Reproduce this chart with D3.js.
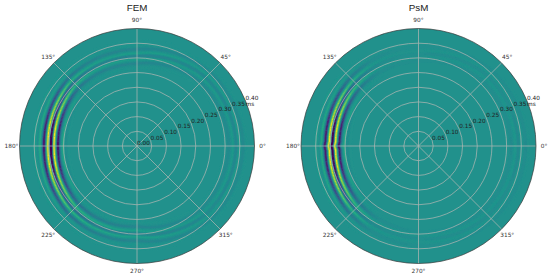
<!DOCTYPE html>
<html><head><meta charset="utf-8">
<script src="https://cdn.jsdelivr.net/npm/d3@7"></script>
<style>html,body{margin:0;padding:0;background:#fff}svg{display:block}</style>
</head><body><svg id="c" width="550" height="278"></svg>
<script>
const titles = ["FEM", "PsM"];
const radialTicks = [0.05, 0.10, 0.15, 0.20, 0.25, 0.30, 0.35, 0.40];
const angleTicks = [0, 45, 90, 135, 180, 225, 270, 315];
const rMax = 0.40;
// Angle samples (deg) read around each disc
const sampleAngles = [0, 45, 90, 105, 120, 135, 150, 165, 177, 180, 183, 195, 210, 225, 240, 255, 270, 315, 360];
// Radius of the wave front (ms) at each sample angle
const frontFEM = [.337, .330, .305, .304, .304, .304, .299, .295, .293, .293, .293, .295, .299, .304, .304, .302, .298, .330, .337];
const frontPsM = [.340, .335, .312, .310, .307, .304, .299, .295, .293, .296, .293, .295, .299, .304, .307, .310, .315, .335, .340];
// Wave amplitude (-1..1) at each sample angle
const ampFEM = [.07, .07, .10, .11, .13, .25, .62, .92, 1, 1, 1, .92, .62, .29, .19, .14, .11, .06, .07];
const ampPsM = [.05, .03, .02, .02, .05, .24, .62, .92, 1, 1, 1, .92, .62, .24, .05, .03, .02, .03, .05];
// Radial wave shape through the front
const waveOffset = [-.075, -.058, -.050, -.041, -.033, -.027, -.021, -.017, -.0125, -.0085, -.006, -.0035, .0035, .006, .0085, .0125, .017, .021, .027, .032, .037, .045, .054, .064, .075];
const waveValue  = [0, .02, -.08, .28, -.08, -.88, -.88, .0, 1, 1, 0, -1, -1, 0, 1, 1, .0, -.85, -.85, -.05, .32, -.05, .12, .0, 0];

const svg = d3.select("#c");
const defs = svg.append("defs");
defs.append("filter").attr("id", "soft").attr("x", "-5%").attr("y", "-5%").attr("width", "110%").attr("height", "110%")
  .append("feGaussianBlur").attr("stdDeviation", 0.3);

const color = d3.scaleSequential(d3.interpolateViridis).domain([-1, 1]);
const wave = d3.scaleLinear().domain(waveOffset).range(waveValue).clamp(true);
const panels = [
  {title: titles[0], cx: 137, cy: 146, R: 117.5, front: frontFEM, amp: ampFEM, zero: true},
  {title: titles[1], cx: 418.5, cy: 146, R: 117.5, front: frontPsM, amp: ampPsM, zero: false}
];
const fmt = d3.format(".2f");
const LEVELS = 96;
const level = d3.scaleQuantize().domain([-1, 1]).range(d3.range(LEVELS));

panels.forEach((p, i) => {
  const r = d3.scaleLinear().domain([0, rMax]).range([0, p.R]);
  const frontAt = d3.scaleLinear().domain(sampleAngles).range(p.front);
  const ampAt = d3.scaleLinear().domain(sampleAngles).range(p.amp);
  const g = svg.append("g").attr("transform", `translate(${p.cx},${p.cy})`);
  const clipId = "disc" + i;
  defs.append("clipPath").attr("id", clipId).append("circle").attr("r", p.R);

  g.append("circle").attr("r", p.R).attr("fill", color(0));
  const heat = g.append("g").attr("clip-path", `url(#${clipId})`).append("g").attr("filter", "url(#soft)");
  const paths = d3.range(LEVELS).map(() => d3.path());
  const arc = d3.arc();
  const dA = 1, dR = 0.001;
  d3.range(0, 360, dA).forEach(deg => {
    const f = frontAt(deg), a = ampAt(deg);
    d3.range(0.2, rMax + dR, dR).forEach(rv => {
      const v = a * wave(rv - f);
      if (Math.abs(v) < 0.01) return;
      const start = (90 - deg - dA / 2) * Math.PI / 180;
      const end = (90 - deg + dA / 2) * Math.PI / 180;
      arc.context(paths[level(v)])({innerRadius: r(rv - dR / 2), outerRadius: r(rv + dR / 2), startAngle: start, endAngle: end});
    });
  });
  paths.forEach((pth, l) => {
    const s = pth.toString();
    if (!s) return;
    const c = color(-1 + (l + 0.5) * 2 / LEVELS);
    heat.append("path").attr("d", s).attr("fill", c);
  });

  const gridColor = "#acb5b1", gw = 0.75;
  radialTicks.slice(0, -1).forEach(t => {
    g.append("circle").attr("r", r(t)).attr("fill", "none").attr("stroke", gridColor).attr("stroke-width", gw);
  });
  angleTicks.forEach(t => {
    const th = t * Math.PI / 180;
    g.append("line").attr("x1", 0).attr("y1", 0).attr("x2", p.R * Math.cos(th)).attr("y2", -p.R * Math.sin(th))
      .attr("stroke", gridColor).attr("stroke-width", gw);
  });
  g.append("circle").attr("r", p.R).attr("fill", "none").attr("stroke", "#3a3a3a").attr("stroke-width", 0.7);

  const font = "'DejaVu Sans'";
  angleTicks.forEach(t => {
    const th = t * Math.PI / 180;
    g.append("text").attr("x", (p.R + 8) * Math.cos(th)).attr("y", -(p.R + 8) * Math.sin(th) + 0.3)
      .attr("text-anchor", "middle").attr("dominant-baseline", "middle")
      .attr("font-family", font).attr("font-size", 5.8).attr("fill", "#333").text(t + "°");
  });
  const la = 22.5 * Math.PI / 180;
  (p.zero ? [0].concat(radialTicks) : radialTicks).forEach(t => {
    g.append("text").attr("x", r(t) * Math.cos(la)).attr("y", -r(t) * Math.sin(la) - 0.8)
      .attr("font-family", font).attr("font-size", 5.8).attr("fill", "#222").text(fmt(t));
  });
  g.append("text").attr("x", r(rMax) * Math.cos(la)).attr("y", -r(rMax) * Math.sin(la) + 5.4)
    .attr("font-family", font).attr("font-size", 5.8).attr("fill", "#222").text("ms");

  svg.append("text").attr("x", p.cx).attr("y", 11.2).attr("text-anchor", "middle")
    .attr("font-family", "'Liberation Sans'").attr("font-size", 9.8).attr("fill", "#222").text(p.title);
});
</script></body></html>
